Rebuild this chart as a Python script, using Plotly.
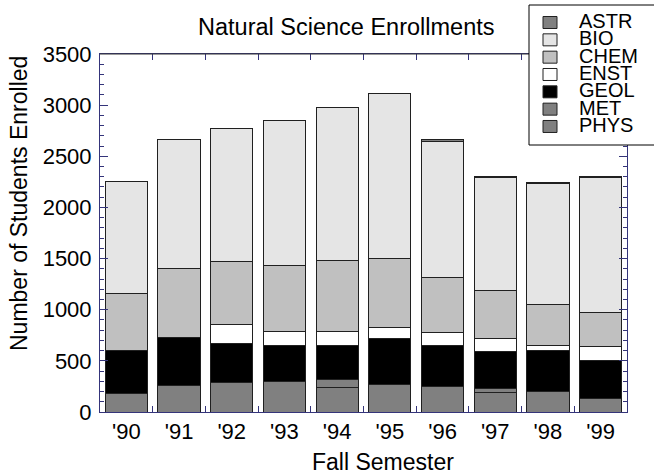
import plotly.graph_objects as go

years = ["'90", "'91", "'92", "'93", "'94", "'95", "'96", "'97", "'98", "'99"]

# stacked from bottom to top
PHYS = [183, 257, 287, 300, 238, 271, 245, 193, 203, 130]
MET  = [0,   0,   0,   0,   82,  0,   0,   35,  0,   0]
GEOL = [417, 470, 381, 353, 333, 443, 401, 362, 394, 369]
ENST = [0,   0,   186, 130, 130, 111, 134, 131, 49,  137]
CHEM = [555, 679, 614, 646, 698, 672, 531, 463, 408, 333]
BIO  = [1103, 1262, 1308, 1425, 1497, 1612, 1334, 1106, 1177, 1321]
ASTR = [0,   0,   0,   0,   0,   0,   20,  10,  10,  10]

series = [
    ("PHYS", PHYS, "#808080"),
    ("MET", MET, "#808080"),
    ("GEOL", GEOL, "#000000"),
    ("ENST", ENST, "#ffffff"),
    ("CHEM", CHEM, "#c0c0c0"),
    ("BIO", BIO, "#e5e5e5"),
    ("ASTR", ASTR, "#808080"),
]
legend_order = ["ASTR", "BIO", "CHEM", "ENST", "GEOL", "MET", "PHYS"]

FONT = "Liberation Sans, Arial, Helvetica, sans-serif"
NAVY = "#34347a"

fig = go.Figure()
for name, vals, col in series:
    fig.add_trace(go.Bar(
        x=years, y=vals, name=name,
        marker=dict(color=col, line=dict(color="#202020", width=1)),
        showlegend=False,
    ))

W, H = 654, 476
L, R, T, B = 100, 27, 54, 64
pw, ph = W - L - R, H - T - B

def px2x(px):
    return (px - L) / pw

def py2y(py):
    return (H - B - py) / ph

fig.update_layout(
    width=W, height=H,
    margin=dict(l=L, r=R, t=T, b=B, autoexpand=False),
    barmode="stack", bargap=0.2,
    plot_bgcolor="white", paper_bgcolor="white",
    font=dict(family=FONT, size=22, color="black"),
    xaxis=dict(
        automargin=False,
        showline=True, linecolor=NAVY, linewidth=1, mirror="ticks",
        ticks="inside", tickson="boundaries", ticklen=6, tickcolor=NAVY,
        showgrid=False, zeroline=False,
        tickfont=dict(size=22, family=FONT, color="black"),
    ),
    yaxis=dict(
        automargin=False,
        range=[0, 3500], dtick=500, tick0=0,
        showline=True, linecolor=NAVY, linewidth=1, mirror="ticks",
        ticks="inside", ticklen=8, tickcolor=NAVY, ticklabelstandoff=3,
        minor=dict(dtick=100, ticks="inside", ticklen=4, tickcolor=NAVY, showgrid=False),
        showgrid=False, zeroline=False,
        tickfont=dict(size=22, family=FONT, color="black"),
    ),
)

annotations = [
    dict(text="Natural Science Enrollments", xref="paper", yref="paper",
         x=px2x(346), y=py2y(27), xanchor="center", yanchor="middle",
         showarrow=False, font=dict(size=23.5, family=FONT, color="black")),
    dict(text="Number of Students Enrolled", xref="paper", yref="paper",
         x=px2x(19), y=py2y(204), xanchor="center", yanchor="middle",
         textangle=-90, showarrow=False, font=dict(size=23, family=FONT, color="black")),
    dict(text="Fall Semester", xref="paper", yref="paper",
         x=px2x(383), y=py2y(462), xanchor="center", yanchor="middle",
         showarrow=False, font=dict(size=23, family=FONT, color="black")),
]

shapes = [
    # dark top frame line
    dict(type="line", xref="paper", yref="paper", x0=0, x1=1, y0=1, y1=1,
         line=dict(color="#333333", width=1), layer="above"),
    # legend box
    dict(type="rect", xref="paper", yref="paper",
         x0=px2x(529), x1=px2x(662), y0=py2y(145), y1=py2y(5),
         fillcolor="white", line=dict(color="black", width=1), layer="above"),
]

colors = {n: c for n, _, c in series}
for i, name in enumerate(legend_order):
    cy = 22.5 + i * 17.33
    shapes.append(dict(type="rect", xref="paper", yref="paper",
                       x0=px2x(543), x1=px2x(557), y0=py2y(cy + 6), y1=py2y(cy - 6),
                       fillcolor=colors[name], line=dict(color="#202020", width=1),
                       layer="above"))
    annotations.append(dict(text=name, xref="paper", yref="paper",
                            x=px2x(577), y=py2y(cy - 1.5), xanchor="left", yanchor="middle",
                            showarrow=False, font=dict(size=20, family=FONT, color="black")))

fig.update_layout(shapes=shapes, annotations=annotations)
fig.write_html("out.html",
               config={"displayModeBar": False},
               post_script="document.body.style.margin='0';document.body.style.overflow='hidden';")
